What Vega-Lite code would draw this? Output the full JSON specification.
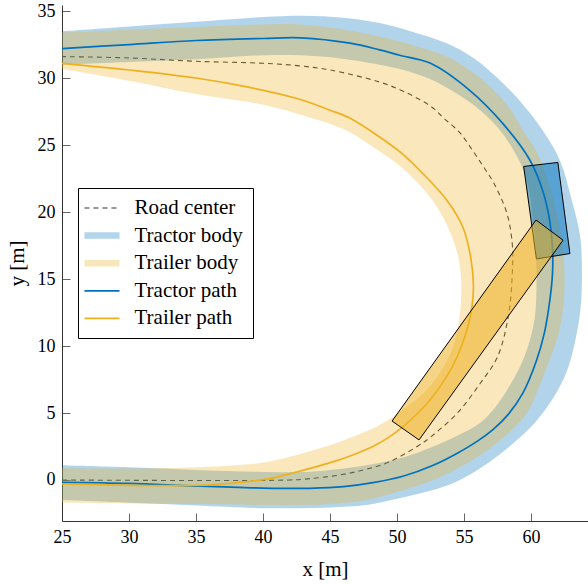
{
  "$schema": "https://vega.github.io/schema/vega-lite/v6.json",
  "width": 526,
  "height": 516,
  "autosize": "none",
  "padding": {"left": 62, "top": 5, "right": 0, "bottom": 63},
  "config": {
    "view": {"stroke": null},
    "font": "Liberation Serif",
    "axis": {
      "labelFont": "Liberation Serif", "labelFontSize": 18, "labelColor": "#000",
      "titleFont": "Liberation Serif", "titleFontSize": 21, "titleFontWeight": "normal", "titleColor": "#000",
      "domainColor": "#333", "domainWidth": 1, "tickColor": "#666", "tickSize": -8, "tickWidth": 1,
      "labelPadding": 15, "grid": false, "labelFlush": false, "labelOverlap": false
    }
  },
  "datasets": {
    "tractorBand": [
      {"x":24,"y":33.47},{"x":25,"y":33.5},{"x":30,"y":33.85},{"x":35,"y":34.2},{"x":40,"y":34.55},{"x":43,"y":34.65},{"x":46,"y":34.5},{"x":48.7,"y":34.1},{"x":51,"y":33.5},{"x":53.7,"y":32.6},{"x":55.7,"y":31.5},{"x":57.4,"y":30.1},{"x":58.8,"y":28.7},{"x":59.9,"y":27.4},{"x":61,"y":25.9},{"x":61.9,"y":24.4},{"x":62.5,"y":22.9},{"x":62.9,"y":21.4},{"x":63.4,"y":19.5},{"x":63.7,"y":17.9},{"x":63.8,"y":15.4},{"x":63.7,"y":12.9},{"x":63.3,"y":10.4},{"x":62.7,"y":8.2},{"x":61.7,"y":6.2},{"x":60.3,"y":4.3},{"x":58.5,"y":2.6},{"x":56.4,"y":1.0},{"x":54.5,"y":-0.1},{"x":52.7,"y":-0.75},{"x":50,"y":-1.4},{"x":47.7,"y":-1.87},{"x":45,"y":-2.05},{"x":42.8,"y":-2.1},{"x":40,"y":-2.1},{"x":35,"y":-1.9},{"x":30,"y":-1.7},{"x":25,"y":-1.5},{"x":24,"y":-1.46},
      {"x":24,"y":1.13},{"x":25,"y":1.1},{"x":30,"y":0.95},{"x":35,"y":0.75},{"x":40,"y":0.6},{"x":43.5,"y":0.62},{"x":45.5,"y":0.8},{"x":47.7,"y":1.1},{"x":50.5,"y":1.7},{"x":52.7,"y":2.5},{"x":54.5,"y":3.3},{"x":56.2,"y":4.25},{"x":57.3,"y":5.4},{"x":58.2,"y":6.7},{"x":59.2,"y":8.5},{"x":59.9,"y":10.4},{"x":60.3,"y":12.3},{"x":60.4,"y":14.2},{"x":60.4,"y":16},{"x":60.3,"y":17.9},{"x":60.1,"y":19.7},{"x":59.9,"y":21.4},{"x":59.4,"y":23.2},{"x":58.7,"y":24.6},{"x":57.6,"y":26.2},{"x":56.2,"y":27.6},{"x":54.5,"y":28.8},{"x":52.5,"y":29.9},{"x":50.5,"y":30.6},{"x":48.7,"y":31.0},{"x":45.5,"y":31.5},{"x":42.8,"y":31.7},{"x":40,"y":31.7},{"x":35,"y":31.4},{"x":30,"y":31.2},{"x":25,"y":31.0},{"x":24,"y":30.96}
    ],
    "trailerBand": [
      {"x":24,"y":33.38},{"x":25,"y":33.4},{"x":30,"y":33.6},{"x":35,"y":33.8},{"x":40,"y":34.0},{"x":42.8,"y":34.0},{"x":45.5,"y":33.7},{"x":48.7,"y":33.1},{"x":51,"y":32.5},{"x":53.7,"y":31.6},{"x":55.7,"y":30.4},{"x":57.4,"y":28.9},{"x":58.5,"y":27.6},{"x":59.4,"y":26.1},{"x":60.3,"y":24.7},{"x":60.9,"y":23.4},{"x":61.7,"y":20.8},{"x":62.3,"y":17.9},{"x":62.5,"y":15.4},{"x":62.4,"y":12.9},{"x":62,"y":10.7},{"x":61.2,"y":8.5},{"x":60.5,"y":6.7},{"x":59.7,"y":5.0},{"x":58.2,"y":3.4},{"x":56.4,"y":2.0},{"x":54.6,"y":0.9},{"x":52.7,"y":0},{"x":50,"y":-0.9},{"x":47.7,"y":-1.5},{"x":45,"y":-1.8},{"x":42.8,"y":-1.87},{"x":40,"y":-1.87},{"x":35,"y":-1.8},{"x":30,"y":-1.75},{"x":25,"y":-1.7},{"x":24,"y":-1.69},
      {"x":24,"y":0.87},{"x":25,"y":0.87},{"x":30,"y":0.85},{"x":35,"y":0.95},{"x":38,"y":1.1},{"x":40,"y":1.3},{"x":42,"y":1.74},{"x":44,"y":2.3},{"x":46,"y":2.95},{"x":48.7,"y":4.1},{"x":50.5,"y":5.3},{"x":52,"y":6.5},{"x":53.2,"y":8.0},{"x":54.2,"y":10.0},{"x":54.7,"y":12.5},{"x":54.8,"y":14.5},{"x":54.6,"y":16.5},{"x":54.0,"y":18.4},{"x":52.7,"y":20.8},{"x":50.5,"y":23.2},{"x":48,"y":25.0},{"x":46.2,"y":26.1},{"x":43,"y":27.2},{"x":40,"y":28.0},{"x":35,"y":28.8},{"x":30,"y":29.8},{"x":25,"y":30.7},{"x":24,"y":30.88}
    ],
    "road": [
      {"x":25,"y":0},{"x":42,"y":0},{"x":43.5,"y":0.1},{"x":45.7,"y":0.37},{"x":47.5,"y":0.75},{"x":49.3,"y":1.3},{"x":51.5,"y":2.5},{"x":52.5,"y":3.2},{"x":54.5,"y":5.0},{"x":56.2,"y":7.2},{"x":57.5,"y":9.2},{"x":58.3,"y":12.2},{"x":58.6,"y":15.4},{"x":58.6,"y":17.6},{"x":58.2,"y":19.9},{"x":57.2,"y":22.2},{"x":56.5,"y":23.3},{"x":55.7,"y":24.5},{"x":54.7,"y":25.9},{"x":53.5,"y":27.0},{"x":52.5,"y":27.9},{"x":50.5,"y":29.0},{"x":48.7,"y":29.7},{"x":45,"y":30.6},{"x":42.8,"y":30.9},{"x":40,"y":31.1},{"x":35,"y":31.25},{"x":30,"y":31.5},{"x":25,"y":31.6}
    ],
    "paths": [
      {"series":"Tractor path","x":25,"y":32.2},{"series":"Tractor path","x":30,"y":32.5},{"series":"Tractor path","x":35,"y":32.8},{"series":"Tractor path","x":40,"y":32.95},{"series":"Tractor path","x":42.8,"y":33.0},{"series":"Tractor path","x":46.5,"y":32.6},{"series":"Tractor path","x":48.7,"y":32.1},{"series":"Tractor path","x":50.2,"y":31.7},{"series":"Tractor path","x":52.5,"y":31.1},{"series":"Tractor path","x":55.4,"y":29.1},{"series":"Tractor path","x":57.9,"y":26.6},{"series":"Tractor path","x":59.9,"y":23.9},{"series":"Tractor path","x":60.9,"y":21.5},{"series":"Tractor path","x":61.4,"y":19.3},{"series":"Tractor path","x":61.6,"y":17.2},{"series":"Tractor path","x":61.6,"y":15.4},{"series":"Tractor path","x":61.4,"y":13.4},{"series":"Tractor path","x":61.0,"y":11.0},{"series":"Tractor path","x":60.4,"y":8.9},{"series":"Tractor path","x":59.4,"y":6.5},{"series":"Tractor path","x":58.3,"y":4.9},{"series":"Tractor path","x":57.2,"y":3.8},{"series":"Tractor path","x":56,"y":2.9},{"series":"Tractor path","x":54.5,"y":2.0},{"series":"Tractor path","x":52.7,"y":1.1},{"series":"Tractor path","x":50.5,"y":0.3},{"series":"Tractor path","x":48.2,"y":-0.2},{"series":"Tractor path","x":46,"y":-0.5},{"series":"Tractor path","x":43.5,"y":-0.62},{"series":"Tractor path","x":40,"y":-0.6},{"series":"Tractor path","x":35,"y":-0.45},{"series":"Tractor path","x":30,"y":-0.25},{"series":"Tractor path","x":25,"y":-0.17},
      {"series":"Trailer path","x":25,"y":31.1},{"series":"Trailer path","x":30,"y":30.6},{"series":"Trailer path","x":35,"y":30.0},{"series":"Trailer path","x":39,"y":29.3},{"series":"Trailer path","x":42.8,"y":28.4},{"series":"Trailer path","x":45,"y":27.6},{"series":"Trailer path","x":46.5,"y":27.0},{"series":"Trailer path","x":48.7,"y":25.6},{"series":"Trailer path","x":50.2,"y":24.5},{"series":"Trailer path","x":51.7,"y":23.1},{"series":"Trailer path","x":53.7,"y":20.9},{"series":"Trailer path","x":54.9,"y":18.9},{"series":"Trailer path","x":55.5,"y":16.6},{"series":"Trailer path","x":55.7,"y":14.5},{"series":"Trailer path","x":55.6,"y":13.0},{"series":"Trailer path","x":55.3,"y":11.5},{"series":"Trailer path","x":54.7,"y":9.7},{"series":"Trailer path","x":54.1,"y":8.4},{"series":"Trailer path","x":53.3,"y":7.1},{"series":"Trailer path","x":52.4,"y":5.9},{"series":"Trailer path","x":51.4,"y":4.85},{"series":"Trailer path","x":50.4,"y":3.95},{"series":"Trailer path","x":49.4,"y":3.2},{"series":"Trailer path","x":48.3,"y":2.55},{"series":"Trailer path","x":47,"y":1.98},{"series":"Trailer path","x":45.5,"y":1.45},{"series":"Trailer path","x":44,"y":1.0},{"series":"Trailer path","x":42.5,"y":0.6},{"series":"Trailer path","x":40.5,"y":0.1},{"series":"Trailer path","x":38,"y":-0.2},{"series":"Trailer path","x":36,"y":-0.37},{"series":"Trailer path","x":32,"y":-0.42},{"series":"Trailer path","x":28,"y":-0.35},{"series":"Trailer path","x":25,"y":-0.3}
    ],
    "tractorRect": [
      {"x":59.45,"y":23.4},{"x":62.0,"y":23.7},{"x":62.9,"y":16.9},{"x":60.4,"y":16.5},{"x":59.45,"y":23.4}
    ],
    "trailerRect": [
      {"x":60.37,"y":19.4},{"x":62.39,"y":17.9},{"x":51.64,"y":2.99},{"x":49.63,"y":4.4},{"x":60.37,"y":19.4}
    ]
  },
  "encoding": {
    "x": {"field": "x", "type": "quantitative",
      "scale": {"domain": [25, 64.25], "nice": false, "zero": false},
      "axis": {"title": "x [m]", "values": [25, 30, 35, 40, 45, 50, 55, 60], "titlePadding": 12}},
    "y": {"field": "y", "type": "quantitative",
      "scale": {"domain": [-3.06, 35.45], "nice": false, "zero": false},
      "axis": {"title": "y [m]", "values": [0, 5, 10, 15, 20, 25, 30, 35], "titlePadding": 10}}
  },
  "layer": [
    {
      "data": {"name": "road"},
      "mark": {"type": "line", "strokeDash": [5, 4], "strokeWidth": 1.1, "interpolate": "catmull-rom", "clip": true},
      "encoding": {
        "color": {"datum": "Road center", "type": "nominal"},
        "order": {"value": null}
      }
    },
    {
      "data": {"name": "tractorBand"},
      "mark": {"type": "line", "fill": "#0072bd", "fillOpacity": 0.3, "stroke": null, "strokeWidth": 0, "strokeOpacity": 0, "interpolate": "catmull-rom", "clip": true},
      "encoding": {"order": {"value": null}}
    },
    {
      "data": {"name": "trailerBand"},
      "mark": {"type": "line", "fill": "#edb120", "fillOpacity": 0.3, "stroke": null, "strokeWidth": 0, "strokeOpacity": 0, "interpolate": "catmull-rom", "clip": true},
      "encoding": {"order": {"value": null}}
    },
    {
      "data": {"name": "paths"},
      "mark": {"type": "line", "strokeWidth": 1.7, "interpolate": "catmull-rom", "clip": true},
      "encoding": {
        "color": {"field": "series", "type": "nominal",
          "scale": {"domain": ["Road center", "Tractor body", "Trailer body", "Tractor path", "Trailer path"],
                    "range": ["#333333", "#b3d5eb", "#f9e7bc", "#0072bd", "#edb120"]},
          "legend": {
            "orient": "none", "legendX": 16, "legendY": 183, "title": null,
            "symbolType": "M-2.7,0L2.7,0", "symbolSize": 169, "symbolStrokeWidth": 1.5,
            "symbolOffset": 4, "labelOffset": 22,
            "padding": 9.5, "rowPadding": 5.6,
            "strokeColor": "#000", "fillColor": "#fff", "cornerRadius": 0,
            "labelFont": "Liberation Serif", "labelFontSize": 21, "labelColor": "#000", "labelLimit": 400,
            "encode": {"symbols": {"update": {
              "shape": {"signal": "datum.value === 'Tractor body' || datum.value === 'Trailer body' ? 'M-2.7,-0.5L2.7,-0.5L2.7,0.5L-2.7,0.5Z' : 'M-2.7,0L2.7,0'"},
              "fill": {"signal": "datum.value === 'Tractor body' ? '#b3d5eb' : datum.value === 'Trailer body' ? '#f9e7bc' : 'transparent'"},
              "strokeWidth": {"signal": "datum.value === 'Road center' ? 1.1 : datum.value === 'Tractor body' || datum.value === 'Trailer body' ? 0 : 1.7"},
              "strokeDash": {"signal": "datum.value === 'Road center' ? [5, 4] : [1, 0]"}
            }}}
          }
        },
        "order": {"value": null}
      }
    },
    {
      "data": {"name": "tractorRect"},
      "mark": {"type": "line", "fill": "#0072bd", "fillOpacity": 0.5, "stroke": "#000", "strokeWidth": 1, "interpolate": "linear"},
      "encoding": {"order": {"value": null}}
    },
    {
      "data": {"name": "trailerRect"},
      "mark": {"type": "line", "fill": "#edb120", "fillOpacity": 0.55, "stroke": "#000", "strokeWidth": 1, "interpolate": "linear"},
      "encoding": {"order": {"value": null}}
    }
  ]
}
